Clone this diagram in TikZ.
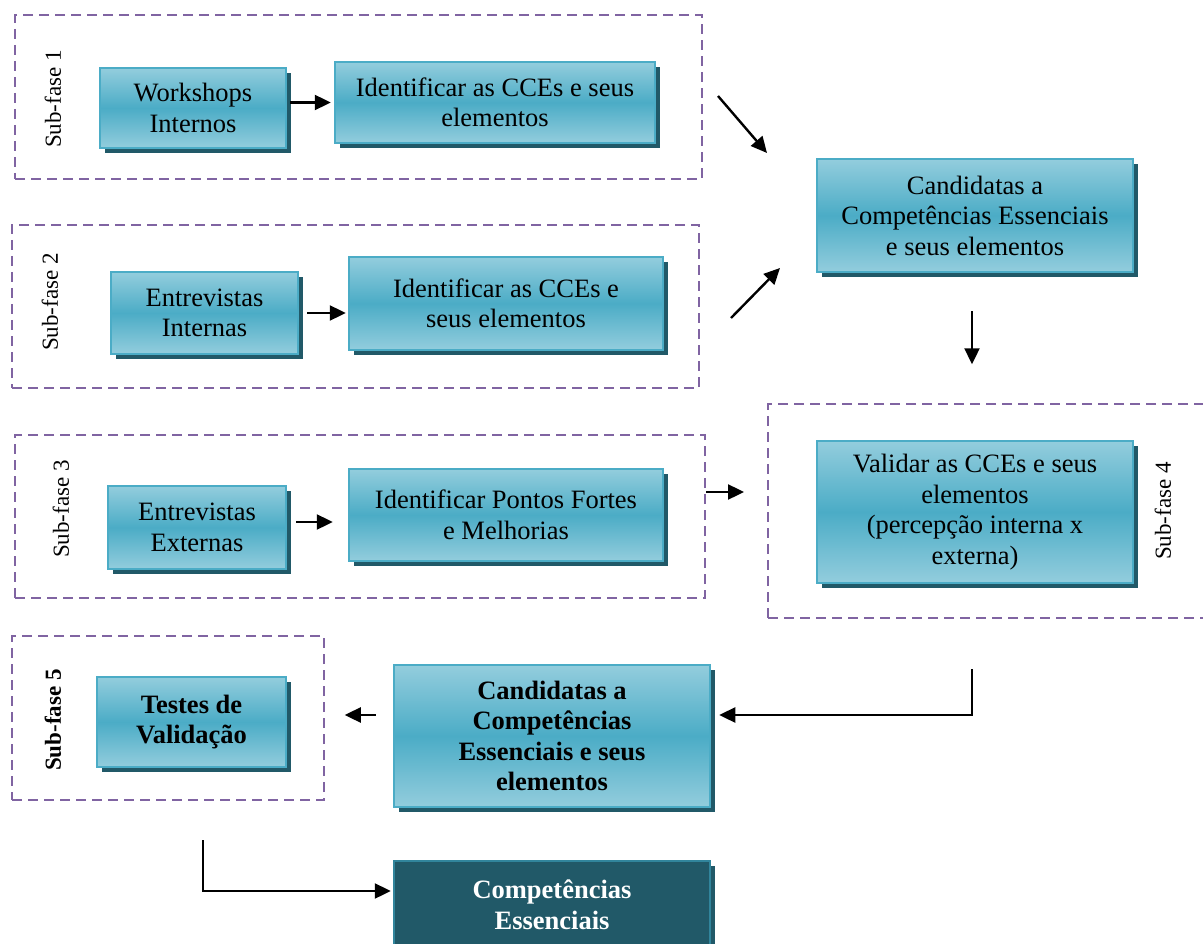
\documentclass[tikz,border=0pt]{standalone}
\usepackage{fontspec}
\setmainfont{Liberation Serif}
\usetikzlibrary{shadows,arrows.meta,calc}

\definecolor{boxlight}{HTML}{93CDDD}
\definecolor{boxmid}{HTML}{4BACC6}
\definecolor{boxedge}{HTML}{4BACC6}
\definecolor{boxshadow}{HTML}{215968}
\definecolor{darkfill}{HTML}{215968}
\definecolor{darkedge}{HTML}{31859C}
\definecolor{phase}{HTML}{8064A2}

\tikzset{
  stepbox/.style={rectangle, top color=boxlight, bottom color=boxlight,
    middle color=boxmid, draw=boxedge, line width=2.5pt, align=center,
    inner sep=2pt, font=\fontsize{26.5}{30.5}\selectfont,
    drop shadow={shadow xshift=5pt, shadow yshift=-5pt, fill=boxshadow, opacity=1}},
  boldbox/.style={stepbox, font=\fontsize{26.5}{30.5}\selectfont\bfseries},
  finalbox/.style={rectangle, fill=darkfill, draw=darkedge, line width=2.5pt,
    align=center, inner sep=2pt, text=white,
    font=\fontsize{26.5}{30.5}\selectfont\bfseries,
    drop shadow={shadow xshift=5pt, shadow yshift=-5pt, fill=boxshadow, opacity=1}},
  phasebox/.style={rectangle, draw=phase, line width=2pt,
    dash pattern=on 10pt off 6pt, inner sep=0pt},
  phaselabel/.style={rotate=90, inner sep=0pt, font=\fontsize{23}{27}\selectfont},
  arr/.style={line width=2.4pt, -{Triangle[length=16pt,width=15pt]}},
}

\begin{document}
\begin{tikzpicture}[x=1pt,y=-1pt]
\useasboundingbox (0,0) rectangle (1203,944);

% sub-phase frames
\node[phasebox, minimum width=687pt, minimum height=164pt] (sf1) at (358.5,97) {};
\node[phasebox, minimum width=687pt, minimum height=163pt] (sf2) at (355.5,306.5) {};
\node[phasebox, minimum width=690pt, minimum height=163pt] (sf3) at (360,516.5) {};
\node[phasebox, minimum width=447pt, minimum height=214pt] (sf4) at (991.5,511) {};
\node[phasebox, minimum width=312pt, minimum height=164pt] (sf5) at (168,718) {};

% sub-phase labels
\node[phaselabel] (l1) at (53,99) {Sub-fase 1};
\node[phaselabel] (l2) at (50,302) {Sub-fase 2};
\node[phaselabel] (l3) at (61,509) {Sub-fase 3};
\node[phaselabel] (l4) at (1163,511) {Sub-fase 4};
\node[phaselabel, font=\fontsize{23}{27}\selectfont\bfseries] (l5) at (53,720) {Sub-fase 5};

% process steps
\node[stepbox, minimum width=186pt, minimum height=80pt] (work) at (193,108) {Workshops\\Internos};
\node[stepbox, minimum width=320pt, minimum height=81pt] (id1) at (495,102.5) {Identificar as CCEs e seus\\elementos};
\node[stepbox, minimum width=187pt, minimum height=82pt] (entInt) at (204.5,313) {Entrevistas\\Internas};
\node[stepbox, minimum width=314pt, minimum height=93pt] (id2) at (506,303.5) {Identificar as CCEs e\\seus elementos};
\node[stepbox, minimum width=178pt, minimum height=83pt] (entExt) at (197,527.5) {Entrevistas\\Externas};
\node[stepbox, minimum width=314pt, minimum height=92pt] (pontos) at (506,515) {Identificar Pontos Fortes\\e Melhorias};
\node[stepbox, minimum width=316pt, minimum height=113pt] (cand) at (975,215.5) {Candidatas a\\Competências Essenciais\\e seus elementos};
\node[stepbox, minimum width=316pt, minimum height=142pt] (valid) at (975,512) {Validar as CCEs e seus\\elementos\\(percepção interna x\\externa)};
\node[boldbox, minimum width=189pt, minimum height=90pt] (testes) at (191.5,722) {Testes de\\Validação};
\node[boldbox, minimum width=316pt, minimum height=142pt] (candB) at (552,736) {Candidatas a\\Competências\\Essenciais e seus\\elementos};
\node[finalbox, minimum width=316pt, minimum height=88pt] (comp) at (552,905) {Competências\\Essenciais};

% free ends of the diagonal connectors
\coordinate (d1a) at (718,96);
\coordinate (d1b) at (767,153);
\coordinate (d2a) at (731,318);
\coordinate (d2b) at (780,268);

% connectors
\draw[arr, shorten <=3pt, shorten >=3pt] (work.east |- id1.west) -- (id1.west);
\draw[arr, shorten >=2pt] ([xshift=8pt]entInt.east) -- (entInt.east -| id2.west);
\draw[arr] ($(entExt.east)+(9,-5.5)$) -- ($(entExt.east -| pontos.west)+(-15,-5.5)$);
\draw[arr] ($(sf3.east)+(0,-24.5)$) -- ($(sf3.east -| sf4.west)+(-23,-24.5)$);
\draw[arr] (d1a) -- (d1b);
\draw[arr] (d2a) -- (d2b);
\draw[arr] ($(cand.south)+(-3,38)$) -- ($(cand.south)+(-3,91)$);
\draw[arr] ($(valid.south)+(-3,85)$) |- ($(candB.east)+(8,-21)$);
\draw[arr] ($(candB.west)+(-17,-21)$) -- ($(candB.west)+(-48,-21)$);
\draw[arr] ($(testes.south)+(11.5,72)$) |- ($(comp.west)+(-2,-14)$);
\end{tikzpicture}
\end{document}
